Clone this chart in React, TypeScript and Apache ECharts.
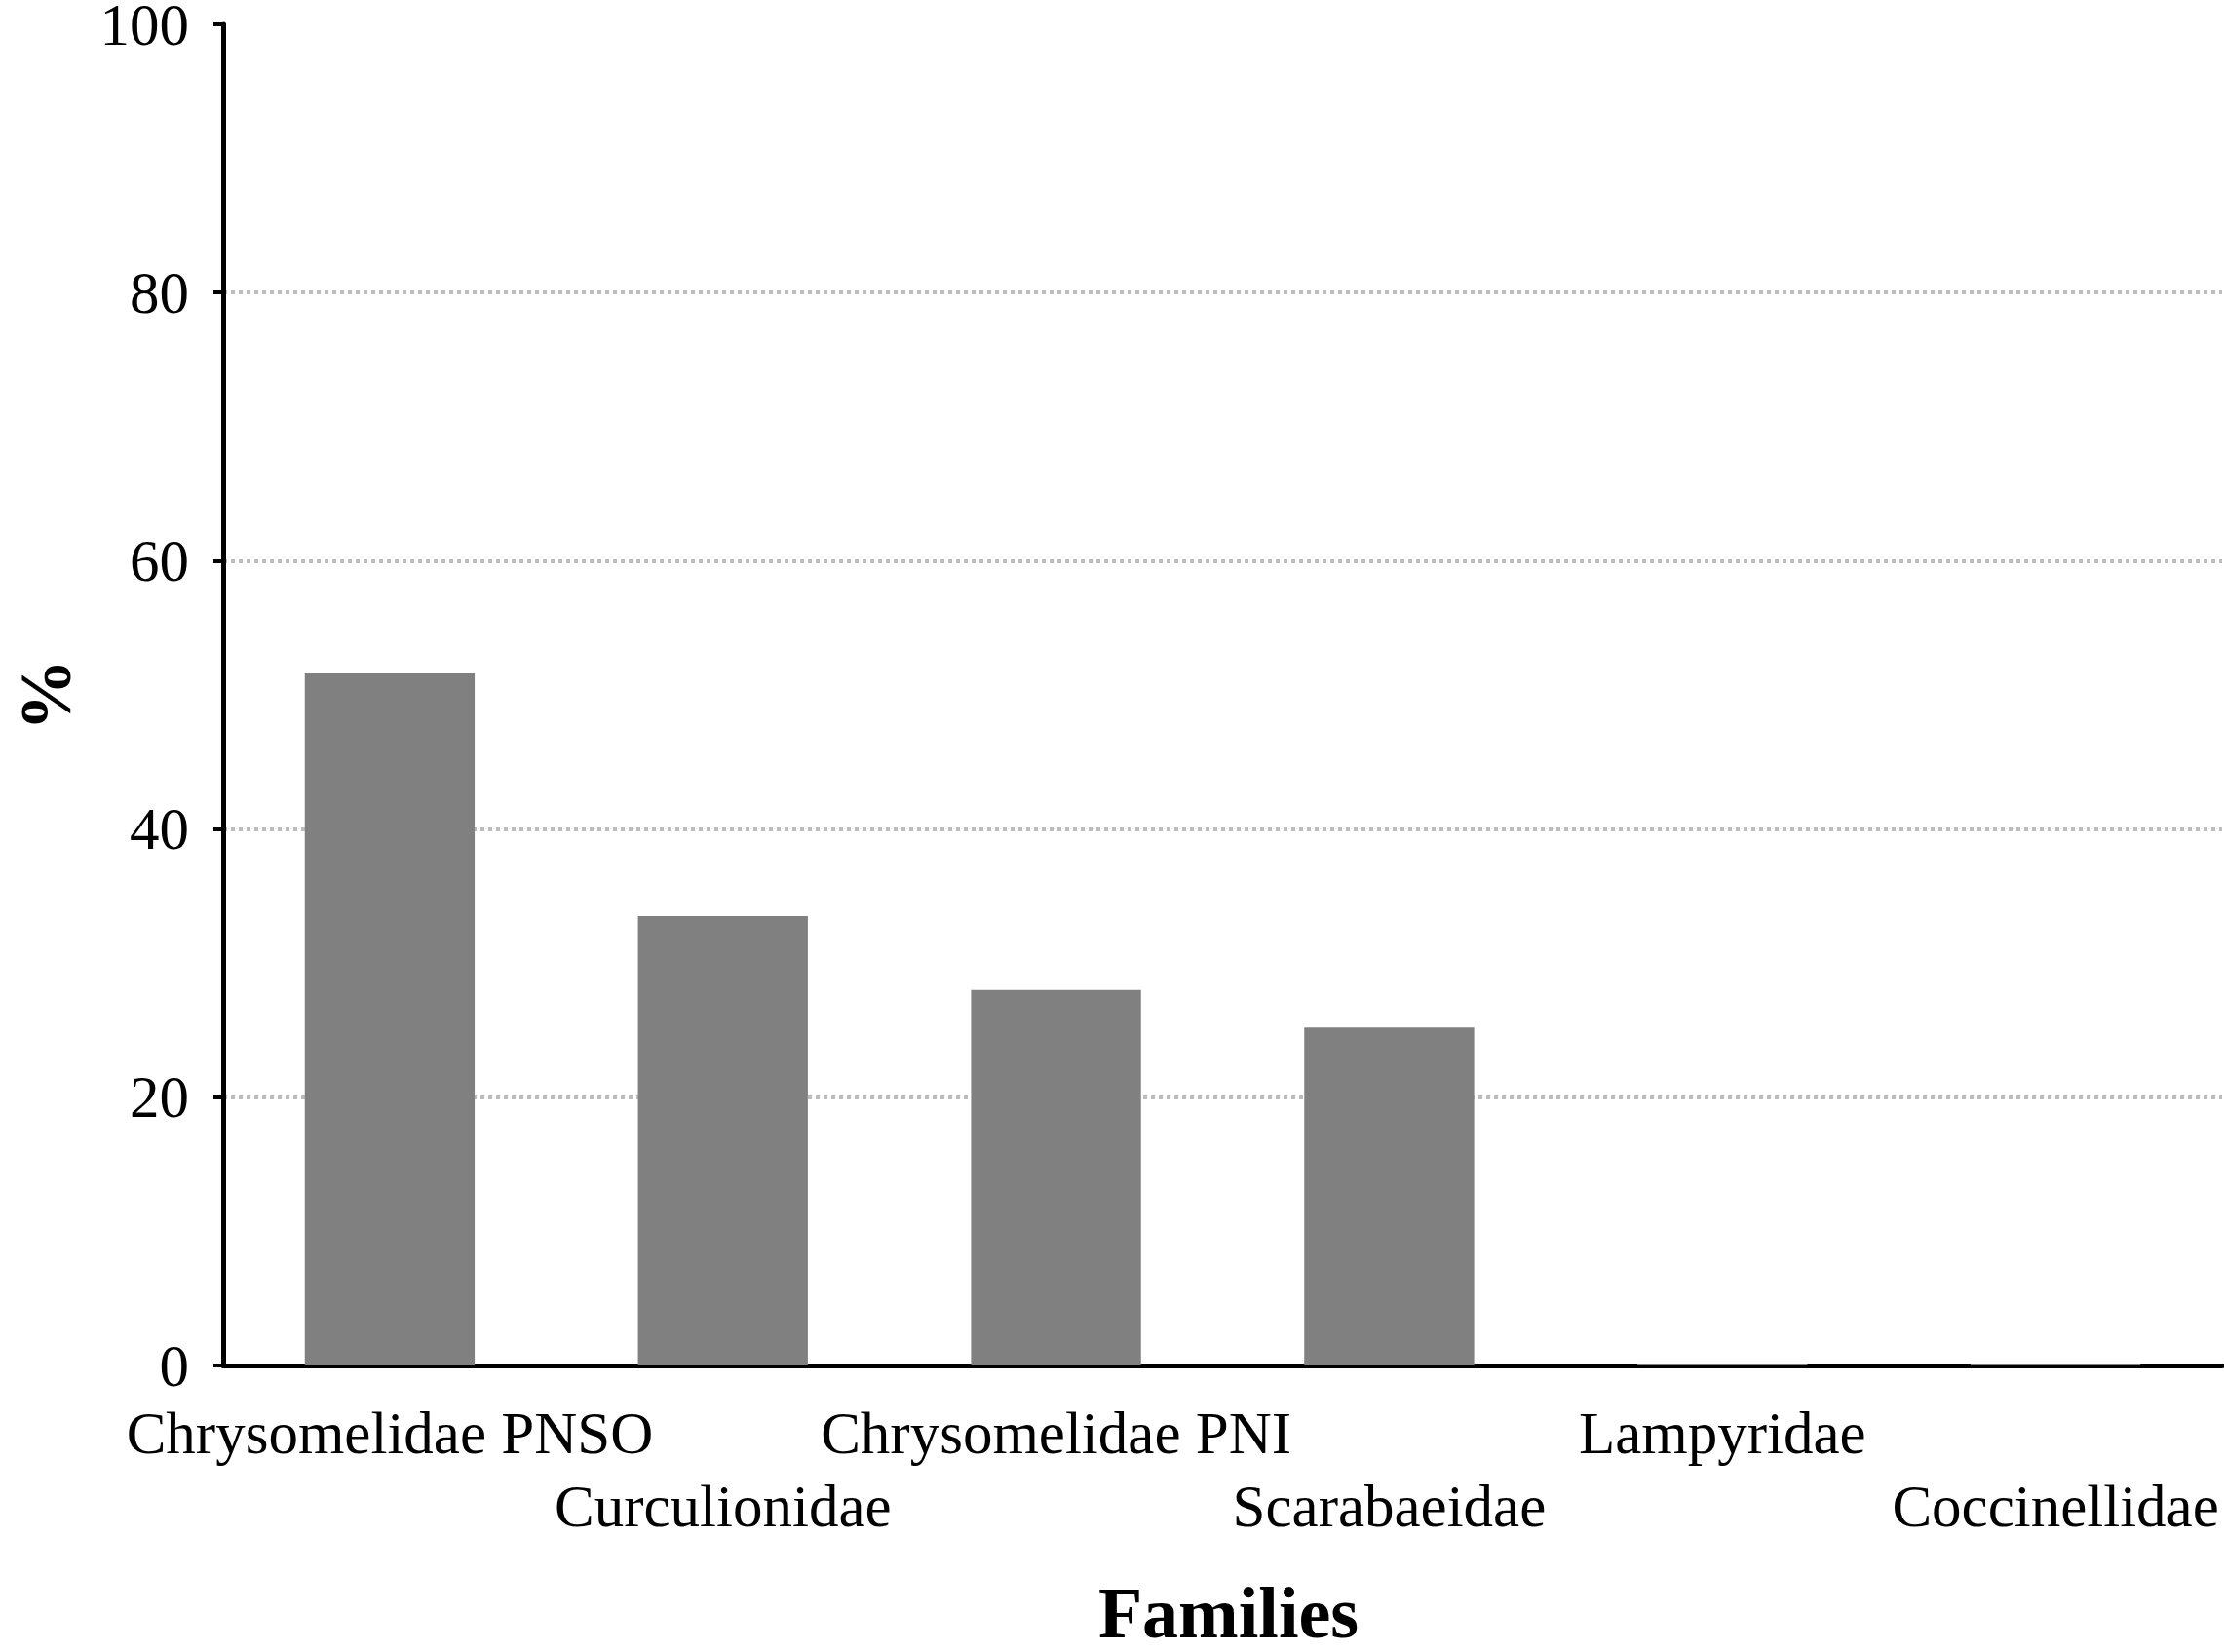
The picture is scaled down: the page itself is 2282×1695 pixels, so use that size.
import * as echarts from 'echarts';
import { useEffect, useRef } from 'react';

const families = [
  'Chrysomelidae PNSO',
  'Curculionidae',
  'Chrysomelidae PNI',
  'Scarabaeidae',
  'Lampyridae',
  'Coccinellidae'
];
const percentValues = [51.6, 33.5, 28.0, 25.2, 0.1, 0.1];
const yTicks = { min: 0, max: 100, interval: 20 };

const FONT = 'Liberation Serif, Times New Roman, serif';

const App: React.FC = () => {
  const chartRef = useRef<HTMLDivElement>(null);

  useEffect(() => {
    if (!chartRef.current) return;
    document.body.style.margin = '0';

    const mychart = echarts.init(chartRef.current, undefined, { renderer: 'svg' });
    mychart.setOption({
      animation: false,
      backgroundColor: '#ffffff',
      grid: {
        left: 229,
        right: 2,
        top: 25,
        bottom: 294,
        containLabel: false,
        outerBoundsMode: 'none'
      },
      xAxis: {
        type: 'category',
        data: families,
        name: 'Families',
        nameLocation: 'middle',
        nameGap: 224,
        nameTextStyle: {
          fontFamily: FONT,
          fontSize: 74,
          lineHeight: 60,
          fontWeight: 'bold',
          color: '#000',
          padding: [0, 0, 0, 12]
        },
        axisLine: { lineStyle: { color: '#000', width: 5 } },
        axisTick: {
          alignWithLabel: true,
          length: 10,
          lineStyle: { color: '#000', width: 4 }
        },
        axisLabel: {
          interval: 0,
          margin: 32,
          fontFamily: FONT,
          fontSize: 61,
          lineHeight: 75,
          color: '#000',
          formatter: (value: string, idx: number) => (idx % 2 === 1 ? '\n' + value : value)
        },
        splitLine: { show: false }
      },
      yAxis: {
        type: 'value',
        min: yTicks.min,
        max: yTicks.max,
        interval: yTicks.interval,
        name: '%',
        nameLocation: 'middle',
        nameRotate: 90,
        nameGap: 152,
        nameTextStyle: {
          fontFamily: FONT,
          fontSize: 74,
          lineHeight: 60,
          fontWeight: 'bold',
          color: '#000'
        },
        axisLine: { show: true, lineStyle: { color: '#000', width: 5 } },
        axisTick: {
          show: true,
          length: 10,
          lineStyle: { color: '#000', width: 4 }
        },
        axisLabel: {
          margin: 35,
          fontFamily: FONT,
          fontSize: 61,
          lineHeight: 44,
          color: '#000'
        },
        splitLine: {
          show: true,
          showMinLine: false,
          showMaxLine: false,
          lineStyle: { color: '#bdbdbd', width: 4, type: [4, 4] }
        }
      },
      series: [
        {
          type: 'bar',
          data: percentValues,
          barWidth: '51%',
          itemStyle: { color: '#808080' }
        }
      ]
    });

    return () => {
      if (!mychart.isDisposed()) {
        mychart.dispose();
      }
    };
  }, []);

  return <div ref={chartRef} style={{ width: '2282px', height: '1695px' }}></div>;
};

export default App;
